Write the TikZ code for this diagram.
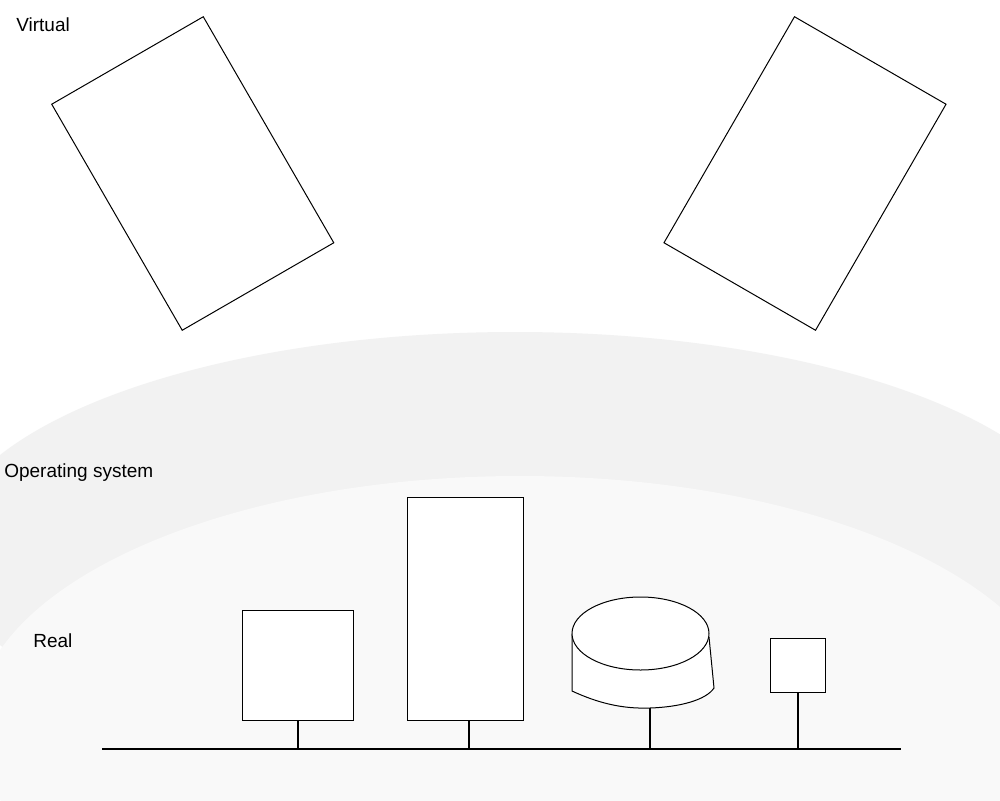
\documentclass[tikz,border=0pt]{standalone}
\usepackage{fontspec}
\setmainfont{Liberation Sans}
\usetikzlibrary{shapes.geometric}
\definecolor{osfill}{RGB}{242,242,242}
\definecolor{realfill}{RGB}{249,249,249}

\begin{document}
\begin{tikzpicture}[
  x=0.6pt,y=-0.6pt,
  device/.style={draw,fill=white,line width=0.6pt,inner sep=0pt},
  window/.style={device,minimum width=105pt,minimum height=156.6pt},
  stub/.style={line width=1.2pt},
  bus/.style={line width=1.7pt},
  layer/.style={font=\fontsize{11.4}{13}\selectfont,anchor=base west,inner sep=0pt}
]
\useasboundingbox (0,0) rectangle (1000,800);
\fill[white] (0,0) rectangle (1000,800);
% The two layers are large ellipses, cut by the page.
\begin{scope}
\clip (0,0) rectangle (1000,800);
\fill[osfill] (515,550) ellipse [x radius=572,y radius=218];
\fill[realfill] (520,725) ellipse [x radius=545,y radius=249];
\end{scope}
\node[layer] (lvirtual) at (16,32) {Virtual};
\node[layer] (los) at (4,477) {Operating system};
\node[layer] (lreal) at (33,647) {Real};

\node[window,rotate=30]  (vleft)  at (192.75,173.5) {};
\node[window,rotate=-30] (vright) at (805,173.5) {};

\coordinate (busL) at (102,749);
\coordinate (busR) at (901,749);
\node[device,minimum width=66.6pt,minimum height=66pt]    (cpu) at (297.5,665) {};
\node[device,minimum width=69.6pt,minimum height=133.8pt] (mem) at (465,608.5) {};
\node[device,minimum width=33pt,minimum height=32.4pt]    (io)  at (797.5,665) {};

% Disk: body first, then the lid over it.
\coordinate (diskbase) at (650,708);
\draw[fill=white,line width=0.6pt] (572,633.5) -- (572,691)
  .. controls (598,703) and (622,709) .. (diskbase)
  .. controls (680,707) and (706,700) .. (714,688) -- (709,637);
\node[device,ellipse,minimum width=82.2pt,minimum height=43.8pt] (disk) at (640.5,633.5) {};

\draw[bus] (busL) -- (busR);
\draw[stub] (cpu.south) -- (cpu.south |- busL);
\draw[stub] ([xshift=2.4pt]mem.south) -- ([xshift=2.4pt]mem.south |- busL);
\draw[stub] (diskbase) -- (diskbase |- busL);
\draw[stub] (io.south) -- (io.south |- busL);
\end{tikzpicture}
\end{document}
